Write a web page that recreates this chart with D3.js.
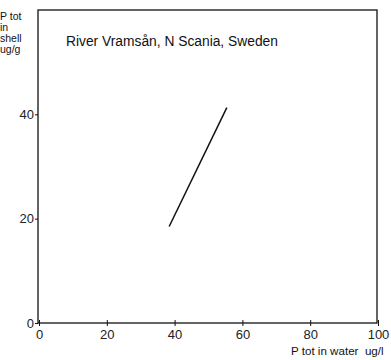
<!DOCTYPE html>
<html><head><meta charset="utf-8">
<script src="https://cdn.jsdelivr.net/npm/d3@7"></script>
<style>body{margin:0;background:#fff;overflow:hidden}svg{display:block}</style>
</head><body>
<script>
const title = "River Vramsån, N Scania, Sweden";
const yLabelLines = ["P tot", "in", "shell", "ug/g"];
const xLabel = "P tot in water  ug/l";
const xTicks = [0, 20, 40, 60, 80, 100];
const yTicks = [0, 20, 40];
const lineX = [38.4, 55.4];
const lineY = [18.5, 41.3];

const W = 391, H = 360;
const svg = d3.select("body").append("svg").attr("width", W).attr("height", H);
const font = "Liberation Sans, Arial, sans-serif";
const x = d3.scaleLinear().domain([0, 100]).range([39, 378]);
const y = d3.scaleLinear().domain([0, 60]).range([323, 10]);

// box
svg.append("rect").attr("x", 38).attr("y", 10).attr("width", 339).attr("height", 313)
  .attr("fill", "none").attr("stroke", "#111").attr("stroke-width", 1.3);

const xa = svg.append("g").attr("transform", "translate(0,323)")
  .call(d3.axisBottom(x).tickValues(xTicks).tickSize(4).tickPadding(3));
xa.select(".domain").remove();
xa.selectAll("line").attr("y1", -3).attr("y2", 3).attr("stroke", "#111");
xa.selectAll("text").attr("font-family", font).attr("font-size", 13).attr("fill", "#222");

const ya = svg.append("g").attr("transform", "translate(38,0)")
  .call(d3.axisLeft(y).tickValues(yTicks).tickSize(3).tickPadding(1));
ya.select(".domain").remove();
ya.selectAll("line").attr("stroke", "#111");
ya.selectAll("text").attr("font-family", font).attr("font-size", 13).attr("fill", "#222");

svg.append("text").attr("x", 66).attr("y", 46).attr("font-family", font)
  .attr("font-size", 13.8).attr("fill", "#111").text(title);

svg.append("g").selectAll("text").data(yLabelLines).join("text")
  .attr("x", 0).attr("y", (d, i) => 20 + i * 11)
  .attr("font-family", font).attr("font-size", 10.5).attr("fill", "#111").text(d => d);

svg.append("text").attr("x", 291).attr("y", 355).attr("font-family", font)
  .style("white-space", "pre")
  .attr("font-size", 11.6).attr("fill", "#111").text(xLabel);

const pts = lineX.map((v, i) => [v, lineY[i]]);
svg.append("path").datum(pts)
  .attr("d", d3.line().x(d => x(d[0])).y(d => y(d[1])))
  .attr("stroke", "#111").attr("stroke-width", 1.5).attr("fill", "none");
</script>
</body></html>
